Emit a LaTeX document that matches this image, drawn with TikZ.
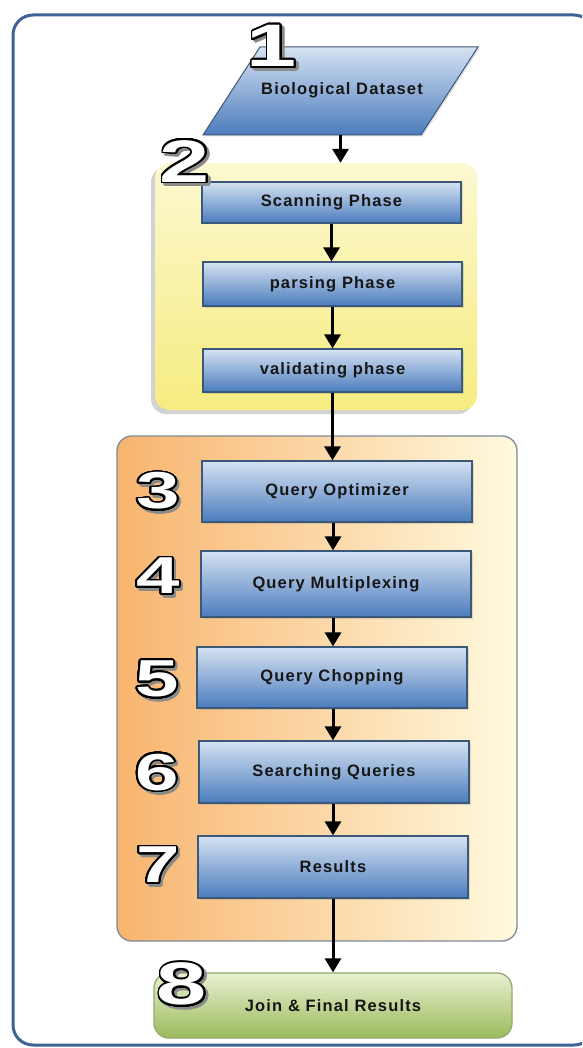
\documentclass[tikz,border=0pt]{standalone}
\usepackage{fontspec}
\usepackage[copies]{contour}
\usetikzlibrary{arrows.meta,shadows}

\newfontfamily\boxfont[LetterSpace=7]{Liberation Sans}
\newfontfamily\digitfont[FakeStretch=1.5]{Liberation Sans}
\contourlength{1.8pt}
\contournumber{32}

\definecolor{frameblue}{HTML}{3E6495}
\definecolor{bluetop}{HTML}{D5E2F2}
\definecolor{bluebot}{HTML}{4B7CBD}
\definecolor{boxedge}{HTML}{3C5878}
\definecolor{yellowtop}{HTML}{FCF8D0}
\definecolor{yellowbot}{HTML}{F6EC80}
\definecolor{orangeleft}{HTML}{F8B46E}
\definecolor{orangeright}{HTML}{FFFADF}
\definecolor{orangeedge}{HTML}{7E8A98}
\definecolor{greentop}{HTML}{E8F1D2}
\definecolor{greenbot}{HTML}{9BBA5A}
\definecolor{greenedge}{HTML}{93AA6E}
\definecolor{ink}{HTML}{161616}
\definecolor{numshade}{HTML}{8A8A8A}

\newcommand\stagenum[4]{%
  \node[numshadow, font=\digitfont\bfseries\fontsize{#4}{#4}\selectfont,
        xshift=2.5pt, yshift=-2.5pt] (#1s) at #2
        {\contour{numshade}{\textcolor{numshade}{#3}}};
  \node[numlabel, font=\digitfont\bfseries\fontsize{#4}{#4}\selectfont] (#1) at #2
        {\contour{black}{\textcolor{white}{#3}}};
}

\begin{document}
\begin{tikzpicture}[x=1pt, y=-1pt,
  labelfont/.style={font=\boxfont\bfseries\fontsize{16.5}{18}\selectfont, text=ink},
  stepbox/.style={rectangle, draw=boxedge, line width=1.2pt,
    top color=bluetop, bottom color=bluebot, labelfont, inner sep=0pt,
    drop shadow={opacity=0.25, shadow xshift=1.5pt, shadow yshift=-1.5pt}},
  flow/.style={draw=black, line width=3pt, -{Triangle[width=16pt,length=14pt]}},
  numlabel/.style={inner sep=0pt, anchor=center},
  numshadow/.style={inner sep=0pt, anchor=center, opacity=0.6},
]
\useasboundingbox (0,0) rectangle (582,1048);
\clip (0,0) rectangle (582,1048);
\fill[white] (0,0) rectangle (582,1048);

% outer frame, its right side runs past the page edge
\draw[frameblue, line width=3pt, rounded corners=20pt] (13,15) rectangle (594,1045);

% input data (parallelogram)
\coordinate (dTL) at (260,47);
\coordinate (dTR) at (478,47);
\coordinate (dBR) at (421,135);
\coordinate (dBL) at (203,135);
\coordinate (dataout) at (340.5,135);
\path[draw=boxedge, line width=1pt, top color=bluetop, bottom color=bluebot,
      drop shadow={opacity=0.25, shadow xshift=1.5pt, shadow yshift=-1.5pt}]
  (dTL) -- (dTR) -- (dBR) -- (dBL) -- cycle;
\node[labelfont, inner sep=0pt] (data) at (342,90) {Biological Dataset};

% stage 2 container
\node[rounded corners=15pt, draw=none, top color=yellowtop, bottom color=yellowbot,
      minimum width=322pt, minimum height=247pt,
      drop shadow={opacity=0.35, shadow xshift=-4pt, shadow yshift=-4pt}]
      (stage2) at (316,286.5) {};

% query processing container
\node[rounded corners=15pt, draw=orangeedge, line width=1.3pt,
      left color=orangeleft, right color=orangeright,
      minimum width=400pt, minimum height=505pt] (stage3) at (317,688.5) {};

% steps
\node[stepbox, minimum width=259pt, minimum height=41pt] (scan)  at (331.5,202.5) {Scanning Phase};
\node[stepbox, minimum width=259pt, minimum height=44pt] (parse) at (332.5,284) {parsing Phase};
\node[stepbox, minimum width=259pt, minimum height=43pt] (valid) at (332.5,370.5) {validating phase};

\node[stepbox, minimum width=270pt, minimum height=61pt] (opt)    at (337,491.5) {Query Optimizer};
\node[stepbox, minimum width=270pt, minimum height=66pt] (mux)    at (336,584) {Query Multiplexing};
\node[stepbox, minimum width=270pt, minimum height=61pt] (chop)   at (332,677.5) {Query Chopping};
\node[stepbox, minimum width=270pt, minimum height=62pt] (search) at (334,772) {Searching Queries};
\node[stepbox, minimum width=270pt, minimum height=62pt] (res)    at (333,867) {Results};

\node[rounded corners=15pt, draw=greenedge, line width=1.3pt,
      top color=greentop, bottom color=greenbot, labelfont,
      minimum width=358pt, minimum height=65pt] (final) at (333,1005.5) {Join \& Final Results};

% connectors
\draw[flow] (dataout) -- (dataout |- stage2.north);
\draw[flow] (scan.south) -- (scan.south |- parse.north);
\draw[flow] (parse.south) -- (parse.south |- valid.north);
\draw[flow] (valid.south) -- (valid.south |- opt.north);
\draw[flow] (opt.south -| res.south) -- (mux.north -| res.south);
\draw[flow] (mux.south -| res.south) -- (chop.north -| res.south);
\draw[flow] (chop.south -| res.south) -- (search.north -| res.south);
\draw[flow] (search.south -| res.south) -- (res.north);
\draw[flow] (res.south) -- (final.north);

% stage numbers
\stagenum{n1}{(272,47)}{1}{60}
\stagenum{n2}{(185,162)}{2}{60}
\stagenum{n3}{(158,492)}{3}{52}
\stagenum{n4}{(158,577)}{4}{52}
\stagenum{n5}{(157,680)}{5}{52}
\stagenum{n6}{(157,773)}{6}{52}
\stagenum{n7}{(158,866)}{7}{52}
\stagenum{n8}{(182,985)}{8}{60}
\end{tikzpicture}
\end{document}
